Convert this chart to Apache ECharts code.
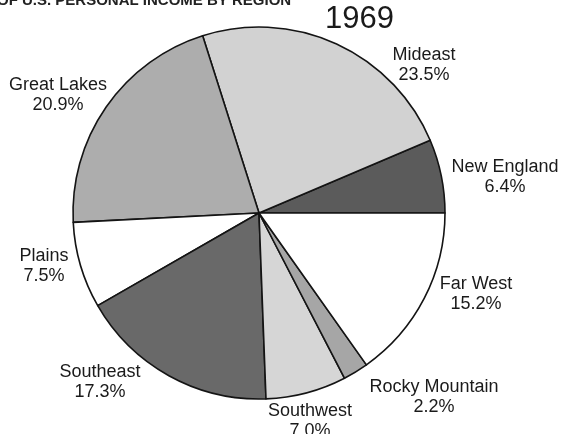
<!DOCTYPE html>
<html>
<head>
<meta charset="utf-8">
<script src="https://cdn.jsdelivr.net/npm/echarts@6/dist/echarts.min.js"></script>
<style>
  html, body { margin: 0; padding: 0; background: #fff; }
  #chart { width: 562px; height: 434px; }
</style>
</head>
<body>
<div id="chart"></div>
<script>
// Regional shares of U.S. personal income, 1969 (percent)
const regions = ['New England', 'Mideast', 'Great Lakes', 'Plains', 'Southeast', 'Southwest', 'Rocky Mountain', 'Far West'];
const shares = [6.4, 23.5, 20.9, 7.5, 17.3, 7.0, 2.2, 15.2];
const year = '1969';
const heading = 'OF U.S. PERSONAL INCOME BY REGION';

// Gray fill for each wedge, in the same order as the regions
const fills = ['#5b5b5b', '#d2d2d2', '#adadad', '#ffffff', '#696969', '#d6d6d6', '#a6a6a6', '#ffffff'];
// Where each two-line label sits (centre of the text block)
const labelSpots = [[505, 177], [424, 65], [58, 95], [44, 266], [100, 382], [310, 421], [434, 397], [476, 294]];

const chart = echarts.init(document.getElementById('chart'), null, { renderer: 'canvas' });

chart.setOption({
  backgroundColor: '#ffffff',
  animation: false,
  textStyle: { fontFamily: 'Liberation Sans, Arial, sans-serif' },
  graphic: [
    {
      type: 'text',
      left: -3,
      top: -7,
      style: {
        text: heading,
        font: 'bold 15px "Liberation Sans", Arial, sans-serif',
        fill: '#222222'
      }
    },
    {
      type: 'text',
      left: 325,
      top: 4,
      style: {
        text: year,
        font: '31px "Liberation Sans", Arial, sans-serif',
        fill: '#1a1a1a'
      }
    }
  ],
  series: [{
    type: 'pie',
    center: [259, 213],
    radius: 186,
    startAngle: 0,
    clockwise: false,
    avoidLabelOverlap: false,
    silent: true,
    emphasis: { disabled: true },
    itemStyle: { borderColor: '#141414', borderWidth: 1.6 },
    label: {
      show: true,
      position: 'outside',
      formatter: p => p.name + '\n' + p.value.toFixed(1) + '%',
      fontSize: 18,
      lineHeight: 20,
      color: '#1a1a1a',
      align: 'center'
    },
    labelLine: { show: false },
    labelLayout: p => ({
      x: labelSpots[p.dataIndex][0],
      y: labelSpots[p.dataIndex][1],
      align: 'center',
      verticalAlign: 'middle'
    }),
    data: regions.map((name, i) => ({
      name: name,
      value: shares[i],
      itemStyle: { color: fills[i] }
    }))
  }]
});
</script>
</body>
</html>
